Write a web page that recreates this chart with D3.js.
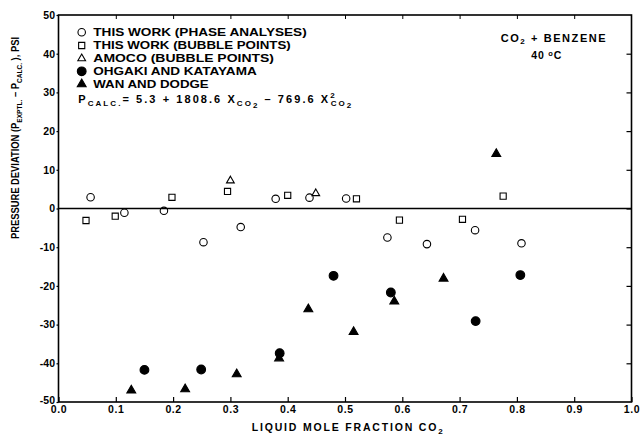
<!DOCTYPE html>
<html>
<head>
<meta charset="utf-8">
<script src="https://cdn.jsdelivr.net/npm/d3@7"></script>
<style>
  html, body { margin: 0; padding: 0; background: #fff; }
  svg text { font-family: "Liberation Sans", Arial, Helvetica, sans-serif; font-weight: bold; fill: #000; }
</style>
</head>
<body>
<svg id="chart" width="640" height="439"></svg>
<script>
// ---- data ----
const xTicks = [0, 0.1, 0.2, 0.3, 0.4, 0.5, 0.6, 0.7, 0.8, 0.9, 1.0];
const yTicks = [-50, -40, -30, -20, -10, 0, 10, 20, 30, 40, 50];

const phaseX = [0.056, 0.115, 0.184, 0.253, 0.318, 0.379, 0.438, 0.502, 0.574, 0.643, 0.727, 0.808];
const phaseY = [2.9, -1.1, -0.6, -8.7, -4.8, 2.5, 2.8, 2.6, -7.5, -9.2, -5.6, -9.0];

const bubbleX = [0.048, 0.099, 0.198, 0.295, 0.400, 0.520, 0.595, 0.705, 0.776];
const bubbleY = [-3.1, -2.0, 2.9, 4.4, 3.4, 2.5, -3.0, -2.8, 3.2];

const amocoX = [0.300, 0.449];
const amocoY = [7.2, 3.9];

const ohgakiX = [0.150, 0.249, 0.386, 0.480, 0.580, 0.728, 0.806];
const ohgakiY = [-41.7, -41.6, -37.4, -17.4, -21.7, -29.1, -17.2];

const wanX = [0.127, 0.221, 0.311, 0.385, 0.436, 0.515, 0.586, 0.672, 0.764];
const wanY = [-47.0, -46.7, -42.8, -38.7, -26.0, -31.9, -24.0, -18.1, 14.1];

const legendLabels = [
  "THIS WORK (PHASE ANALYSES)",
  "THIS WORK (BUBBLE POINTS)",
  "AMOCO (BUBBLE POINTS)",
  "OHGAKI AND KATAYAMA",
  "WAN AND DODGE"
];

// ---- chart ----
const svg = d3.select("#chart");
const pLeft = 58.5, pRight = 631.5, pTop = 15, pBottom = 402;
const x = d3.scaleLinear().domain([0, 1]).range([pLeft, pRight]);
const y = d3.scaleLinear().domain([-50, 50]).range([pBottom, pTop]);
const fs = 10.5;

const styles = [
  { type: d3.symbolCircle, size: 44, fill: "none" },
  { type: d3.symbolSquare, size: 38, fill: "none" },
  { type: d3.symbolTriangle, size: 26, fill: "none" },
  { type: d3.symbolCircle, size: 60, fill: "#000" },
  { type: d3.symbolTriangle, size: 34, fill: "#000" }
];
const series = [
  { xs: phaseX, ys: phaseY },
  { xs: bubbleX, ys: bubbleY },
  { xs: amocoX, ys: amocoY },
  { xs: ohgakiX, ys: ohgakiY },
  { xs: wanX, ys: wanY }
];

// frame
svg.append("rect").attr("x", pLeft).attr("y", pTop)
  .attr("width", pRight - pLeft).attr("height", pBottom - pTop)
  .attr("fill", "none").attr("stroke", "#000").attr("stroke-width", 1.6);

// zero line
svg.append("line").attr("x1", pLeft).attr("x2", pRight)
  .attr("y1", y(0)).attr("y2", y(0))
  .attr("stroke", "#000").attr("stroke-width", 1.3);

// bottom axis (inward ticks)
const xAxis = d3.axisBottom(x).tickValues(xTicks).tickSize(-5).tickPadding(4)
  .tickFormat(d3.format(".1f"));
const gx = svg.append("g").attr("transform", `translate(0,${pBottom})`).call(xAxis);
gx.select(".domain").remove();
gx.selectAll("line").attr("stroke", "#000").attr("stroke-width", 1.2);
gx.selectAll("text").attr("font-size", fs).attr("font-family", null)
  .attr("letter-spacing", 0.6);

// top axis ticks (inward)
const gt = svg.append("g").attr("transform", `translate(0,${pTop})`)
  .call(d3.axisTop(x).tickValues(xTicks.slice(1, -1)).tickSize(-4).tickFormat(""));
gt.select(".domain").remove();
gt.selectAll("line").attr("stroke", "#000").attr("stroke-width", 1);

// left axis
const yAxis = d3.axisLeft(y).tickValues(yTicks).tickSize(2).tickPadding(1.5)
  .tickFormat(d => d < 0 ? "-" + Math.abs(d) : String(d));
const gy = svg.append("g").attr("transform", `translate(${pLeft},0)`).call(yAxis);
gy.select(".domain").remove();
gy.selectAll("line").attr("stroke", "#000").attr("stroke-width", 1.2);
gy.selectAll("text").attr("font-size", fs).attr("font-family", null)
  .attr("dy", d => d === -50 ? "0.12em" : "0.32em");

// right axis ticks (inward)
const gr = svg.append("g").attr("transform", `translate(${pRight},0)`)
  .call(d3.axisRight(y).tickValues(yTicks.slice(1, -1)).tickSize(-5).tickFormat(""));
gr.select(".domain").remove();
gr.selectAll("line").attr("stroke", "#000").attr("stroke-width", 1.2);

// data points
series.forEach((s, i) => {
  const st = styles[i];
  const sym = d3.symbol().type(st.type).size(st.size);
  svg.append("g").selectAll("path")
    .data(s.xs.map((v, k) => [v, s.ys[k]]))
    .join("path")
    .attr("d", sym)
    .attr("transform", d => `translate(${x(d[0])},${y(d[1])})`)
    .attr("fill", st.fill)
    .attr("stroke", "#000")
    .attr("stroke-width", 1.1);
});

// legend
const legY = [32.3, 45.5, 58.5, 71.3, 84.2];
const legEnd = [306.7, 290.7, 274, 256.7, 208.7];
legendLabels.forEach((lab, i) => {
  const st = styles[i];
  svg.append("path")
    .attr("d", d3.symbol().type(st.type).size(st.size)())
    .attr("transform", `translate(81.7,${legY[i]})`)
    .attr("fill", st.fill).attr("stroke", "#000").attr("stroke-width", 1.1);
  svg.append("text").attr("x", 93.3).attr("y", legY[i] + 3.8)
    .attr("font-size", fs)
    .attr("textLength", legEnd[i] - 93.3).attr("lengthAdjust", "spacingAndGlyphs")
    .text(lab);
});

// formula
const f = svg.append("text").attr("x", 78.3).attr("y", 102.5).attr("font-size", fs + 0.5)
  .attr("textLength", 273).attr("lengthAdjust", "spacing");
f.append("tspan").text("P");
f.append("tspan").attr("dy", 3).attr("font-size", 8).text("CALC.");
f.append("tspan").attr("dy", -3).text("= 5.3 + 1808.6  X");
f.append("tspan").attr("dy", 3.5).attr("font-size", 8).text("CO");
f.append("tspan").attr("dy", 1.5).attr("font-size", 8).text("2");
f.append("tspan").attr("dy", -5).text("  \u2013  769.6  X");
f.append("tspan").attr("dy", -5).attr("font-size", 8).text("2");
f.append("tspan").attr("dx", -6).attr("dy", 8.5).attr("font-size", 8).text("CO");
f.append("tspan").attr("dy", 1.5).attr("font-size", 8).text("2");

// system label
const t1 = svg.append("text").attr("x", 500.7).attr("y", 41.7).attr("font-size", fs + 0.5)
  .attr("textLength", 105).attr("lengthAdjust", "spacing");
t1.append("tspan").text("CO");
t1.append("tspan").attr("dy", 2.5).attr("font-size", 8).text("2");
t1.append("tspan").attr("dy", -2.5).text(" + BENZENE");
const t2 = svg.append("text").attr("x", 546.7).attr("y", 59.3).attr("font-size", fs)
  .attr("text-anchor", "middle").attr("letter-spacing", 0.8);
t2.append("tspan").text("40 ");
t2.append("tspan").attr("dy", -3).attr("font-size", 7.5).text("o");
t2.append("tspan").attr("dy", 3).text("C");

// x axis title
const xt = svg.append("text").attr("x", 251.7).attr("y", 431).attr("font-size", fs)
  .attr("textLength", 191).attr("lengthAdjust", "spacing");
xt.append("tspan").text("LIQUID MOLE FRACTION CO");
xt.append("tspan").attr("dy", 2.5).attr("font-size", 8).text("2");

// y axis title
const yt = svg.append("text").attr("transform", "translate(19.3,239) rotate(-90)")
  .attr("x", 0).attr("y", 0).attr("font-size", 10)
  .attr("textLength", 202).attr("lengthAdjust", "spacingAndGlyphs");
yt.append("tspan").text("PRESSURE DEVIATION (P");
yt.append("tspan").attr("dy", 3).attr("font-size", 7).text("EXPTL.");
yt.append("tspan").attr("dy", -3).text(" \u2013 P");
yt.append("tspan").attr("dy", 3).attr("font-size", 7).text("CALC.");
yt.append("tspan").attr("dy", -3).text(" ), PSI");
</script>
</body>
</html>
